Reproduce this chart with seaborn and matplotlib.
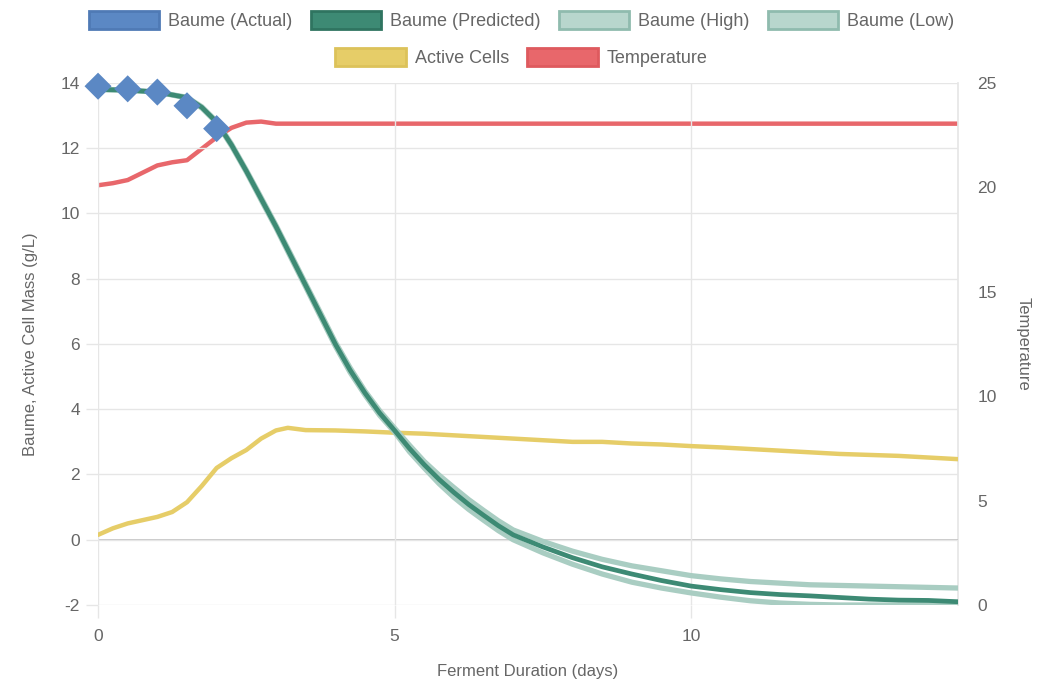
import matplotlib
matplotlib.use("Agg")
import matplotlib.pyplot as plt
import seaborn as sns
from matplotlib.patches import Patch

# --- Data ---
actual_days = [0, 0.5, 1.0, 1.5, 2.0]
baume_actual = [13.9, 13.82, 13.72, 13.3, 12.6]

pred_days = [0, 0.5, 1.0, 1.5, 1.75, 2.0, 2.25, 2.5, 2.75, 3.0, 3.25, 3.5, 3.75, 4.0, 4.25,
             4.5, 4.75, 5.0, 5.25, 5.5, 5.75, 6.0, 6.25, 6.5, 6.75, 7.0, 7.5, 8.0, 8.5, 9.0,
             9.5, 10.0, 10.5, 11.0, 11.5, 12.0, 12.5, 13.0, 13.5, 14.0, 14.5]
baume_pred = [13.8, 13.78, 13.72, 13.55, 13.25, 12.8, 12.1, 11.3, 10.45, 9.6, 8.7, 7.8, 6.9, 6.0, 5.2,
              4.5, 3.88, 3.35, 2.8, 2.3, 1.85, 1.45, 1.08, 0.75, 0.43, 0.15, -0.22, -0.55, -0.83, -1.05,
              -1.25, -1.42, -1.53, -1.62, -1.68, -1.72, -1.77, -1.82, -1.85, -1.86, -1.9]
baume_high = [13.8, 13.78, 13.72, 13.56, 13.27, 12.82, 12.13, 11.33, 10.49, 9.64, 8.75, 7.85, 6.96, 6.06, 5.27,
              4.56, 3.95, 3.42, 2.9, 2.4, 1.98, 1.6, 1.23, 0.9, 0.58, 0.3, -0.05, -0.35, -0.6, -0.8,
              -0.95, -1.1, -1.2, -1.28, -1.33, -1.38, -1.4, -1.42, -1.44, -1.46, -1.48]
baume_low = [13.8, 13.78, 13.72, 13.54, 13.23, 12.78, 12.07, 11.27, 10.41, 9.56, 8.65, 7.75, 6.84, 5.94, 5.13,
             4.44, 3.81, 3.3, 2.7, 2.2, 1.72, 1.3, 0.93, 0.6, 0.28, 0.0, -0.4, -0.75, -1.05, -1.3,
             -1.48, -1.63, -1.76, -1.87, -1.94, -1.98, -2.0, -2.0, -2.0, -1.99, -1.97]

cell_days = [0, 0.25, 0.5, 0.75, 1.0, 1.25, 1.5, 1.75, 2.0, 2.25, 2.5, 2.75, 3.0, 3.2, 3.5,
             4.0, 4.5, 5.0, 5.5, 6.0, 6.5, 7.0, 7.5, 8.0, 8.5, 9.0, 9.5, 10.0, 10.5, 11.0,
             11.5, 12.0, 12.5, 13.0, 13.5, 14.0, 14.5]
active_cells = [0.15, 0.35, 0.5, 0.6, 0.7, 0.85, 1.15, 1.65, 2.2, 2.5, 2.75, 3.1, 3.35, 3.43, 3.36,
                3.35, 3.32, 3.28, 3.25, 3.2, 3.15, 3.1, 3.05, 3.0, 3.0, 2.95, 2.92, 2.87, 2.83, 2.78,
                2.73, 2.68, 2.63, 2.6, 2.57, 2.52, 2.47]

temp_days = [0, 0.25, 0.5, 0.75, 1.0, 1.25, 1.5, 1.75, 2.0, 2.25, 2.5, 2.75, 3.0, 5.0, 10.0, 14.5]
temperature = [20.1, 20.2, 20.35, 20.7, 21.05, 21.2, 21.3, 21.85, 22.4, 22.85, 23.1, 23.15, 23.05, 23.05, 23.05, 23.05]

# --- Styling ---
BLUE = "#5b88c4"
TEAL = "#3d8a74"
LIGHT = "#a9cdc2"
YELLOW = "#e6cd68"
RED = "#e8676b"
TXT = "#666666"
GRID = "#e6e6e6"

sns.set_theme(style="white")
plt.rcParams["font.family"] = ["Liberation Sans", "DejaVu Sans"]
plt.rcParams["axes.unicode_minus"] = False

fig = plt.figure(figsize=(10.43, 6.81), dpi=100)
ax = fig.add_axes([0.094, 0.1116, 0.8245, 0.7666])
ax2 = ax.twinx()
ax.set_zorder(ax2.get_zorder() + 1)
ax.patch.set_visible(False)

line_kw = dict(solid_joinstyle="round", solid_capstyle="round")

# temperature on the right axis (drawn underneath)
sns.lineplot(x=temp_days, y=temperature, ax=ax2, color=RED, lw=3.2, **line_kw)

sns.lineplot(x=cell_days, y=active_cells, ax=ax, color=YELLOW, lw=3.2, **line_kw)
sns.lineplot(x=pred_days, y=baume_low, ax=ax, color=LIGHT, lw=3.8, **line_kw)
sns.lineplot(x=pred_days, y=baume_high, ax=ax, color=LIGHT, lw=3.8, **line_kw)
sns.lineplot(x=pred_days, y=baume_pred, ax=ax, color=TEAL, lw=3.4, **line_kw)
sns.scatterplot(x=actual_days, y=baume_actual, ax=ax, color=BLUE, marker="D", s=190,
                edgecolor="none", zorder=5, clip_on=False)

ax.set_xlim(0, 14.5)
ax.set_ylim(-2, 14)
ax2.set_ylim(0, 25)
ax.set_xticks([0, 5, 10])
ax.set_yticks(range(-2, 15, 2))
ax2.set_yticks(range(0, 26, 5))

ax.grid(True, color=GRID, lw=1)
ax.axhline(0, color="#bdbdbd", lw=1.2, zorder=0.5)
ax.axvline(0, color="#bdbdbd", lw=1.2, zorder=0.5)

for spine in ax.spines.values():
    spine.set_visible(False)
for name, spine in ax2.spines.items():
    spine.set_visible(name == "right")
ax2.spines["right"].set_color(GRID)

ax.tick_params(axis="both", colors=GRID, labelcolor=TXT, labelsize=12.5, length=9, width=1,
               left=True, bottom=True)
ax.tick_params(axis="y", pad=4)
ax.tick_params(axis="x", pad=8)
ax2.tick_params(axis="y", colors=GRID, labelcolor=TXT, labelsize=12.5, length=0, pad=14)

ax.set_xlabel("Ferment Duration (days)", color=TXT, fontsize=12, labelpad=15)
ax.set_ylabel("Baume, Active Cell Mass (g/L)", color=TXT, fontsize=12, labelpad=16)
ax2.set_ylabel("Temperature", color=TXT, fontsize=12, rotation=-90, labelpad=24)

# --- Two-row legend centred at the top ---
def box(face, edge):
    return Patch(facecolor=face, edgecolor=edge, linewidth=2)

row1 = [box(BLUE, "#4f7ab5"), box(TEAL, "#2f7460"), box("#b8d6cd", "#8fbbae"), box("#b8d6cd", "#8fbbae")]
row1_labels = ["Baume (Actual)", "Baume (Predicted)", "Baume (High)", "Baume (Low)"]
row2 = [box(YELLOW, "#dcc25a"), box(RED, "#de5a5e")]
row2_labels = ["Active Cells", "Temperature"]

leg_kw = dict(frameon=False, handlelength=3.9, handleheight=1.15, handletextpad=0.5,
              columnspacing=1.0, prop={"size": 13}, labelcolor=TXT, borderpad=0)
fig.legend(row1, row1_labels, loc="center", bbox_to_anchor=(0.5, 0.97), ncol=4, **leg_kw)
fig.legend(row2, row2_labels, loc="center", bbox_to_anchor=(0.5, 0.916), ncol=2, **leg_kw)

fig.savefig("out.png", dpi=100)
